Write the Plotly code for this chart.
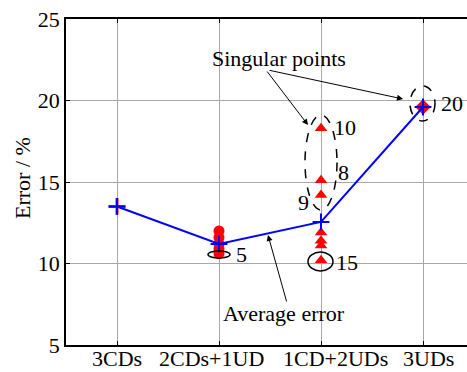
import plotly.graph_objects as go

categories = ["3CDs", "2CDs+1UD", "1CD+2UDs", "3UDs"]
average_error = [13.5, 11.2, 12.55, 19.6]
err_3cds = [13.5]
err_2cds1ud = [12.0, 11.6, 11.2, 10.9, 10.6]
err_1cd2uds = [18.3, 15.1, 14.2, 11.9, 11.4, 11.1, 10.2]
err_3uds = [19.6]
y_ticks = [5, 10, 15, 20, 25]

FONT = "Liberation Serif"
FS = 22
fig = go.Figure()

fig.add_trace(go.Scatter(x=[categories[0]] * len(err_3cds), y=err_3cds, mode="markers",
                         marker=dict(symbol="cross-thin", size=12, line=dict(color="red", width=3))))
fig.add_trace(go.Scatter(x=[categories[1]] * len(err_2cds1ud), y=err_2cds1ud, mode="markers",
                         marker=dict(symbol="circle", size=11, color="red")))
fig.add_trace(go.Scatter(x=[categories[2]] * len(err_1cd2uds), y=err_1cd2uds, mode="markers",
                         marker=dict(symbol="triangle-up", size=11, color="red")))
fig.add_trace(go.Scatter(x=[categories[3]] * len(err_3uds), y=err_3uds, mode="markers",
                         marker=dict(symbol="diamond", size=12, color="red")))
fig.add_trace(go.Scatter(x=categories, y=average_error, mode="lines+markers",
                         line=dict(color="blue", width=2),
                         marker=dict(symbol="cross-thin", size=12, line=dict(color="blue", width=2))))

def px2x(px):
    return -0.5 + (px - 66) / 102.0

def px2y(py):
    return 5 + (345 - py) / 16.3

shapes = []
def ellipse(x0, x1, y0, y1, dash):
    shapes.append(dict(type="circle", xref="x", yref="y",
                       x0=px2x(x0), x1=px2x(x1), y0=px2y(y1), y1=px2y(y0),
                       line=dict(color="black", width=1.5, dash=dash)))

ellipse(305, 337, 115, 210, "dash")
ellipse(410, 435, 86, 121, "dash")
ellipse(208, 230, 251, 258, "solid")
ellipse(308, 333, 252, 271, "solid")

annotations = []
def label(text, px, py):
    annotations.append(dict(text=text, x=px2x(px), y=px2y(py), xref="x", yref="y",
                            showarrow=False, font=dict(family=FONT, size=FS, color="black")))

def arrow(tx, ty, hx, hy):
    annotations.append(dict(text="", x=px2x(hx), y=px2y(hy), ax=px2x(tx), ay=px2y(ty),
                            xref="x", yref="y", axref="x", ayref="y", showarrow=True,
                            arrowhead=2, arrowsize=1.2, arrowwidth=1, arrowcolor="black"))

label("Singular points", 279, 58)
label("Average error", 284, 313)
label("10", 345, 127)
label("8", 343, 172)
label("9", 303, 202)
label("5", 241, 254)
label("15", 347, 262)
label("20", 452, 103)
arrow(266, 70, 308, 125)
arrow(268, 70, 403, 99)
arrow(287, 303, 268, 235)

# category tick labels, positioned as in the original figure
label_shift = [0, -8, 14, 5]
for c, s in zip(categories, label_shift):
    annotations.append(dict(text=c, x=c, xref="x", y=(345 - 358) / 326.0, yref="paper",
                            xshift=s, showarrow=False, xanchor="center", yanchor="middle",
                            font=dict(family=FONT, size=FS, color="black")))

annotations.append(dict(text="Error / %", xref="paper", yref="paper", x=(22 - 66) / 401.0,
                        y=0.5 + (182 - 178) / 326.0, textangle=-90, showarrow=False,
                        xanchor="center", yanchor="middle",
                        font=dict(family=FONT, size=FS, color="black")))

fig.update_layout(
    width=467, height=372,
    margin=dict(l=66, r=0, t=19, b=27, autoexpand=False),
    plot_bgcolor="white", paper_bgcolor="white",
    showlegend=False,
    font=dict(family=FONT, size=FS, color="black"),
    shapes=shapes, annotations=annotations,
    xaxis=dict(type="category", categoryorder="array", categoryarray=categories,
               range=[-0.5, -0.5 + 401 / 102.0], automargin=False,
               showline=True, linecolor="black", linewidth=1.5, mirror="ticks",
               ticks="inside", ticklen=4, tickcolor="black", showticklabels=False,
               showgrid=True, gridcolor="#a8a8a8", gridwidth=1, zeroline=False),
    yaxis=dict(range=[5, 25], tickvals=y_ticks, automargin=False,
               showline=True, linecolor="black", linewidth=1.5, mirror=False,
               ticks="inside", ticklen=4, tickcolor="black",
               showgrid=True, gridcolor="#a8a8a8", gridwidth=1,
               tickfont=dict(family=FONT, size=FS), zeroline=False),
)

fig.write_html("out.html", config={"displayModeBar": False},
               post_script="document.body.style.margin='0';document.body.style.overflow='hidden';")
